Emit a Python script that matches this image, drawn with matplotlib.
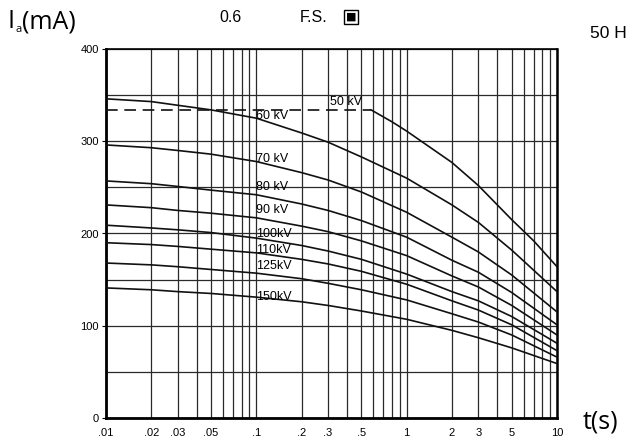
import matplotlib
matplotlib.use("Agg")
import matplotlib.pyplot as plt
from matplotlib.ticker import FixedLocator, NullFormatter
import numpy as np

# temps (s) des points
t = [0.01, 0.02, 0.03, 0.05, 0.1, 0.2, 0.3, 0.5, 1, 2, 3, 5, 10]

# courant anodique (mA) par tension
kv60 = [346, 343, 339, 334, 325, 309, 299, 283, 260, 231, 212, 182, 137]
kv70 = [296, 293, 290, 286, 278, 266, 258, 245, 223, 196, 180, 155, 115]
kv80 = [257, 254, 251, 247, 242, 232, 225, 214, 196, 171, 158, 136, 101]
kv90 = [231, 228, 225, 222, 217, 208, 202, 192, 176, 154, 142, 122, 90]
kv100 = [209, 206, 204, 201, 195, 187, 181, 172, 156, 137, 127, 110, 81]
kv110 = [190, 188, 186, 183, 179, 172, 167, 159, 145, 127, 117, 101, 73]
kv125 = [168, 166, 164, 161, 157, 151, 146, 139, 128, 113, 104, 90, 66]
kv150 = [141, 139, 137, 135, 131, 126, 122, 116, 107, 95, 87, 76, 59]

# 50 kV : palier en pointillés puis descente
t50_dash = [0.01, 0.58]
kv50_dash = [334, 334]
t50 = [0.58, 0.8, 1, 2, 3, 5, 7, 10]
kv50 = [334, 321, 311, 277, 252, 215, 192, 164]

series = [kv60, kv70, kv80, kv90, kv100, kv110, kv125, kv150]
names = ["60 kV", "70 kV", "80 kV", "90 kV", "100kV", "110kV", "125kV", "150kV"]
label_y = [327, 281, 250, 226, 200, 182, 165, 131]

x_major = [0.01, 0.02, 0.03, 0.05, 0.1, 0.2, 0.3, 0.5, 1, 2, 3, 5, 10]
x_labels = [".01", ".02", ".03", ".05", ".1", ".2", ".3", ".5", "1", "2", "3", "5", "10"]
x_minor = [0.04, 0.06, 0.07, 0.08, 0.09, 0.4, 0.6, 0.7, 0.8, 0.9, 4, 6, 7, 8, 9]

fig = plt.figure(figsize=(6.27, 4.40), dpi=100)
ax = fig.add_axes([106 / 627, 22 / 440, 451 / 627, 369 / 440])

for y in series:
    ax.plot(t, y, color="#111111", lw=1.2, zorder=3)
ax.plot(t50_dash, kv50_dash, color="#111111", lw=1.2, linestyle=(0, (7, 4)), zorder=3)
ax.plot(t50, kv50, color="#111111", lw=1.2, zorder=3)

# étiquettes des courbes
for name, ly in zip(names, label_y):
    ax.text(0.1, ly, name, fontsize=9, family="Liberation Sans", va="center", ha="left", zorder=4)
ax.text(0.31, 343, "50 kV", fontsize=9, family="Liberation Sans", va="center", ha="left", zorder=4)

ax.set_xscale("log")
ax.set_xlim(0.01, 10)
ax.set_ylim(0, 400)
ax.xaxis.set_major_locator(FixedLocator(x_major))
ax.xaxis.set_minor_locator(FixedLocator(x_minor))
ax.xaxis.set_minor_formatter(NullFormatter())
ax.set_xticklabels(x_labels)
ax.set_yticks([0, 100, 200, 300, 400])
ax.set_yticks([50, 150, 250, 350], minor=True)

ax.grid(True, which="both", color="#2a2a2a", lw=0.9)
ax.tick_params(axis="x", which="both", length=0, pad=7, labelsize=8)
ax.tick_params(axis="y", which="major", length=3, pad=2, labelsize=8)
ax.tick_params(axis="y", which="minor", length=0)
for lab in ax.get_xticklabels() + ax.get_yticklabels():
    lab.set_family("Liberation Sans")

ax.spines["left"].set_linewidth(2)
ax.spines["bottom"].set_linewidth(2)
ax.spines["right"].set_linewidth(1.8)
ax.spines["top"].set_linewidth(1.2)

# textes autour du graphe : I, indice a, (mA)
fig.text(8 / 627, 1 - 22 / 440, "I", fontsize=18, family="Open Sans", va="center")
fig.text(16 / 627, 1 - 30 / 440, "a", fontsize=8, family="Open Sans", va="center")
fig.text(22 / 627, 1 - 22 / 440, "(mA)", fontsize=18, family="Open Sans", va="center")
fig.text(230 / 627, 1 - 17 / 440, "0.6", fontsize=11.5, family="Liberation Sans", va="center", ha="center")
fig.text(300 / 627, 1 - 17 / 440, "F.S.", fontsize=11.5, family="Liberation Sans", va="center")
fig.text(351 / 627, 1 - 17 / 440, "■", fontsize=8, family="DejaVu Sans", va="center", ha="center",
         bbox=dict(boxstyle="square,pad=0.2", fc="white", ec="black", lw=1))
fig.text(590 / 627, 1 - 33 / 440, "50 Hz", fontsize=12.5, family="Liberation Sans", va="center")
fig.text(583 / 627, 1 - 422 / 440, "t(s)", fontsize=18, family="Open Sans", va="center")

fig.savefig("out.png", dpi=100)
